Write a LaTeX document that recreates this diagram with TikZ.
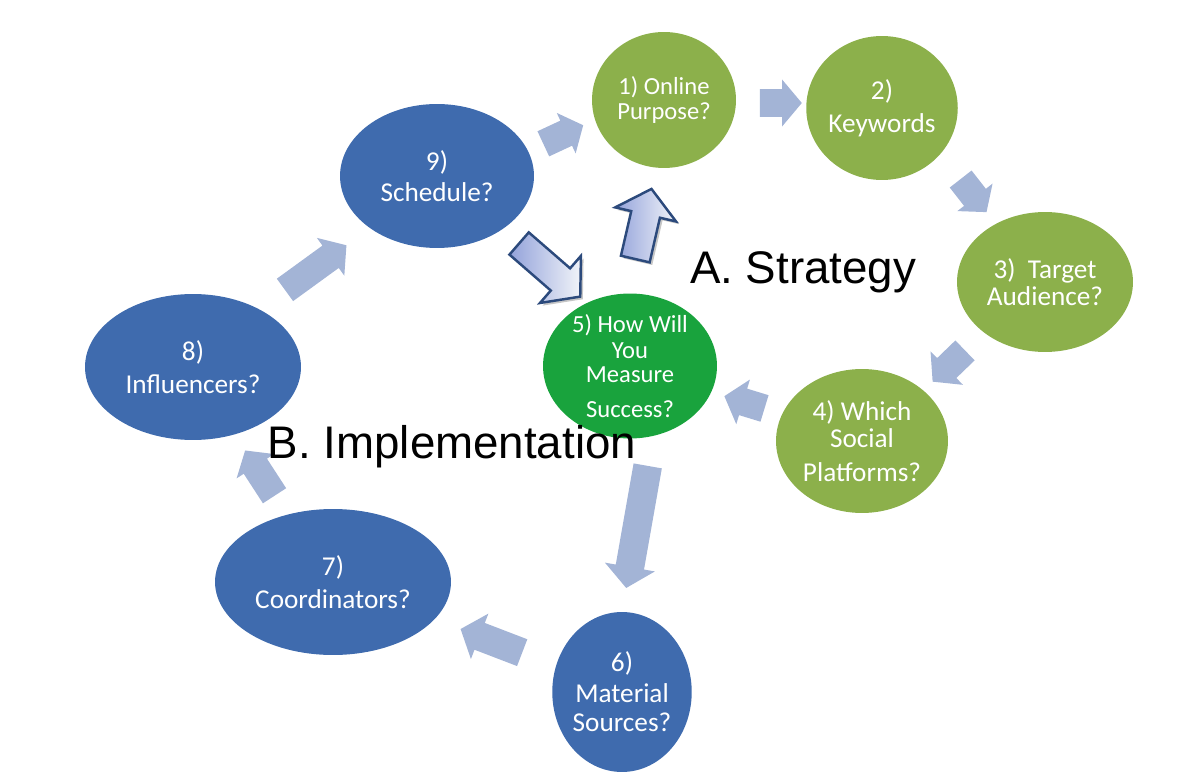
\documentclass[tikz,border=0pt]{standalone}
\usepackage{fontspec}
\setmainfont{Carlito}
\newfontfamily\headfont{Liberation Sans}
\usepackage{tikz}
\usetikzlibrary{shapes.geometric,shapes.arrows,shadows}

\definecolor{stepblue}{HTML}{3F6BAE}
\definecolor{stepgreen}{HTML}{8CB04B}
\definecolor{measuregreen}{HTML}{19A33D}
\definecolor{flowgray}{HTML}{A3B4D6}
\definecolor{edgeblue}{HTML}{2C4A7C}

\tikzset{
  stepnode/.style={ellipse,inner sep=0pt,text=white,align=center,
    font=\fontsize{15.5}{17.5}\selectfont},
  tightstep/.style={font=\fontsize{14}{14.5}\selectfont},
  bluestep/.style={stepnode,fill=stepblue},
  greenstep/.style={stepnode,fill=stepgreen},
  flow/.style={single arrow,fill=flowgray,inner xsep=0pt,inner ysep=0.27cm,
    single arrow tip angle=100,single arrow head extend=0.19cm,
    minimum height=0.84cm},
  bigflow/.style={single arrow,draw=edgeblue,line width=1.4pt,
    inner xsep=0pt,inner ysep=0.27cm,
    left color=flowgray!90!blue,right color=white!85!flowgray,
    single arrow tip angle=100,single arrow head extend=0.33cm,
    drop shadow={shadow xshift=1.5pt,shadow yshift=-1.5pt,opacity=0.45}},
  headline/.style={font=\headfont\fontsize{26}{30}\selectfont,anchor=base}
}

\begin{document}
\begin{tikzpicture}[x=0.02cm,y=-0.02cm]
    \useasboundingbox (0,0) rectangle (1190,773);
    % steps
    \node[greenstep,tightstep,minimum width=2.88cm,minimum height=2.72cm] (1) at (664,100) {1) Online\\Purpose?};
    \node[greenstep,minimum width=2.72cm,minimum height=2.88cm] (2) at (882,108) {2)\\[1pt]Keywords};
    \node[greenstep,minimum width=3.52cm,minimum height=2.80cm] (3) at (1045,282) {3)~~Target\\[-2pt]Audience?};
    \node[greenstep,minimum width=3.44cm,minimum height=2.88cm] (4) at (862,441) {4) Which\\[-2pt]Social\\[1.5pt]Platforms?};
    \node[stepnode,tightstep,fill=measuregreen,minimum width=3.48cm,minimum height=2.64cm] (5) at (630,366) {5) How Will\\You\\[-0.5pt]Measure\\[5pt]Success?};
    \node[bluestep,minimum width=2.76cm,minimum height=3.20cm] (6) at (622,692) {6)\\Material\\[-1pt]Sources?};
    \node[bluestep,minimum width=4.72cm,minimum height=2.92cm] (7) at (333,582) {7)\\[1pt]Coordinators?};
    \node[bluestep,minimum width=4.32cm,minimum height=2.92cm] (8) at (193,367) {8)\\[1pt]Influencers?};
    \node[bluestep,minimum width=3.88cm,minimum height=2.88cm] (9) at (437,176) {9)\\Schedule?};
    % flow arrows
    \node[flow,rotate=25,minimum height=0.88cm,single arrow head extend=0.17cm] (a91) at (558,137) {};
    \node[flow] (a12) at (775,103) {};
    \node[flow,rotate=-52,single arrow head extend=0.17cm] (a23) at (970,191) {};
    \node[flow,rotate=-136,minimum height=0.90cm] (a34) at (953,362) {};
    \node[flow,rotate=163] (a45) at (750,404) {};
    \node[flow,rotate=-100,minimum height=2.48cm,inner ysep=0.28cm,single arrow head extend=0.22cm] (a56) at (638,521) {};
    \node[flow,rotate=159,minimum height=1.32cm,inner ysep=0.28cm,single arrow head extend=0.2cm] (a67) at (497,643) {};
    \node[flow,rotate=123,minimum height=1.08cm,single arrow head extend=0.17cm] (a78) at (263,478) {};
    \node[flow,rotate=36,minimum height=1.52cm] (a89) at (311,271) {};
    % strategy loop arrows
    \node[bigflow,rotate=-41,minimum height=1.62cm] (b95) at (545,266) {};
    \node[bigflow,rotate=77,minimum height=1.44cm] (b51) at (642,230) {};
    % phase titles
    \node[headline] (strategy) at (803,284) {A. Strategy};
    \node[headline] (implementation) at (452,459) {B. Implementation};
\end{tikzpicture}
\end{document}
